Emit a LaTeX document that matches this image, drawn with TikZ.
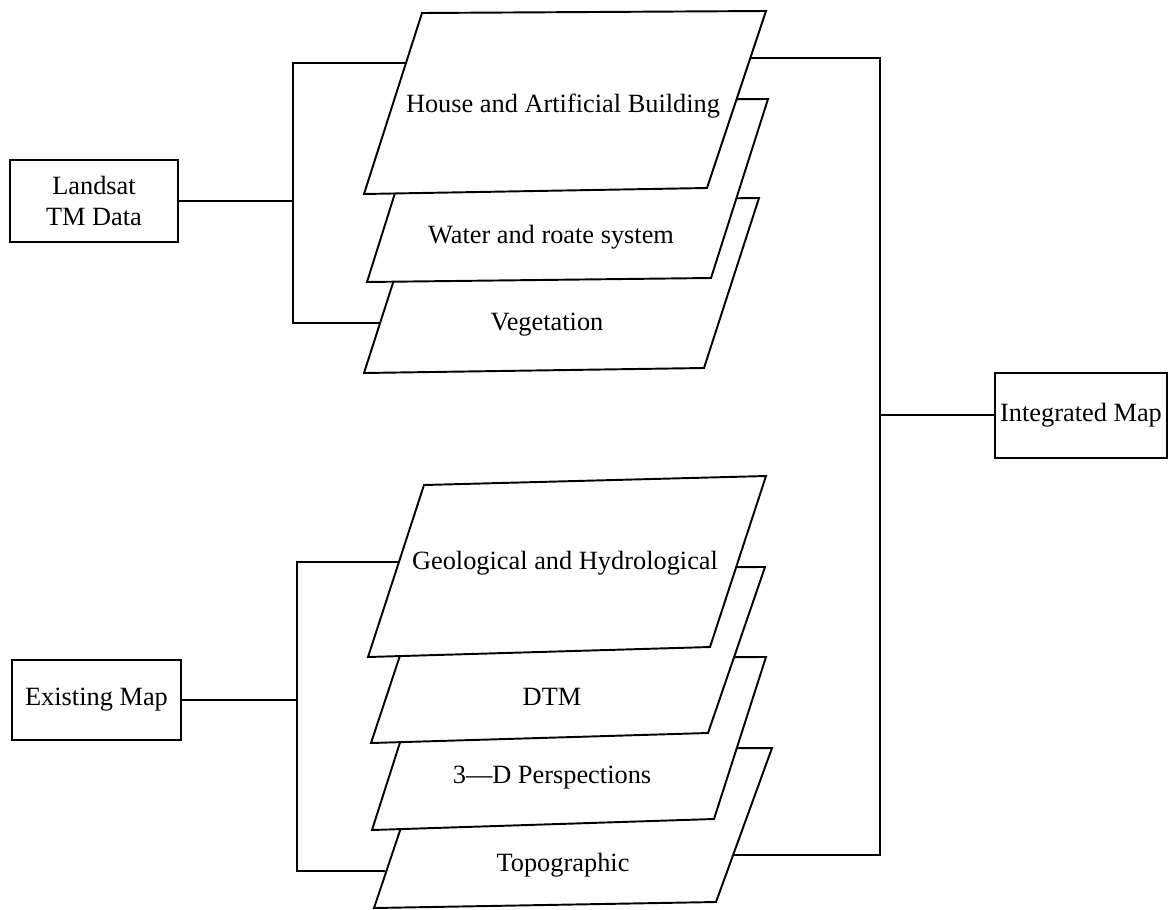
\documentclass[tikz,border=0pt]{standalone}
\usepackage{fontspec}
\setmainfont{Liberation Serif}
\begin{document}
\begin{tikzpicture}[x=0.02cm, y=-0.02cm, line width=1.1pt,
  mapbox/.style={draw, inner sep=0pt, align=center, font=\fontsize{15}{18}\selectfont},
  sheet/.style={draw, fill=white, line join=miter},
  sheettext/.style={inner sep=0pt, font=\fontsize{15}{18}\selectfont}]
  \useasboundingbox (0,0) rectangle (1168,909);

  % source and result boxes
  \node[mapbox, minimum width=3.36cm, minimum height=1.64cm] (landsat) at (94,201) {Landsat\\TM Data};
  \node[mapbox, minimum width=3.38cm, minimum height=1.6cm] (existing) at (96.5,700) {Existing Map};
  \node[mapbox, minimum width=3.44cm, minimum height=1.7cm] (integrated) at (1081,415.2) {Integrated Map};

  % upper stack
  \draw[sheet] (364,373) -- (704,368) -- (759,198) -- (419,202) -- cycle;
  \draw[sheet] (367,282) -- (711,278) -- (768,99) -- (424,101) -- cycle;
  \draw[sheet] (364,194) -- (707,188) -- (766,11) -- (422,13) -- cycle;
  \node[sheettext] (house) at (563,106) {House and Artificial Building};
  \node[sheettext] (water) at (551,237) {Water and roate system};
  \node[sheettext] (veg) at (547,325) {Vegetation};

  % lower stack
  \draw[sheet] (374,908) -- (716,902) -- (772,748) -- (427,750) -- cycle;
  \draw[sheet] (372,830) -- (714,819) -- (766,657) -- (427,658) -- cycle;
  \draw[sheet] (371,743) -- (708,733) -- (765,567) -- (429,568) -- cycle;
  \draw[sheet] (368,657) -- (710,647) -- (766,476) -- (424,485) -- cycle;
  \node[sheettext] (geo) at (565,563) {Geological and Hydrological};
  \node[sheettext] (dtm) at (552,697) {DTM};
  \node[sheettext] (persp) at (552,778) {3---D Perspections};
  \node[sheettext] (topo) at (563,865) {Topographic};

  % attachment points
  \coordinate (house-w) at (406,63);
  \coordinate (house-e) at (750,58);
  \coordinate (veg-w) at (380,323);
  \coordinate (geo-w) at (399,562);
  \coordinate (topo-w) at (385,871);
  \coordinate (topo-e) at (733,855);

  % junctions
  \coordinate (uj-t) at (293,63);
  \coordinate (uj-m) at (293,201);
  \coordinate (uj-b) at (293,323);
  \coordinate (lj-t) at (297,562);
  \coordinate (lj-m) at (297,700);
  \coordinate (lj-b) at (297,871);
  \coordinate (rj-t) at (880,58);
  \coordinate (rj-m) at (880,415.2);
  \coordinate (rj-b) at (880,855);

  % left brackets
  \draw (landsat.east) -- (uj-m);
  \draw (house-w) -- (uj-t) -- (uj-b) -- (veg-w);
  \draw (existing.east) -- (lj-m);
  \draw (geo-w) -- (lj-t) -- (lj-b) -- (topo-w);

  % right bracket
  \draw (house-e) -- (rj-t) -- (rj-b) -- (topo-e);
  \draw (rj-m) -- (integrated.west);

\end{tikzpicture}
\end{document}
